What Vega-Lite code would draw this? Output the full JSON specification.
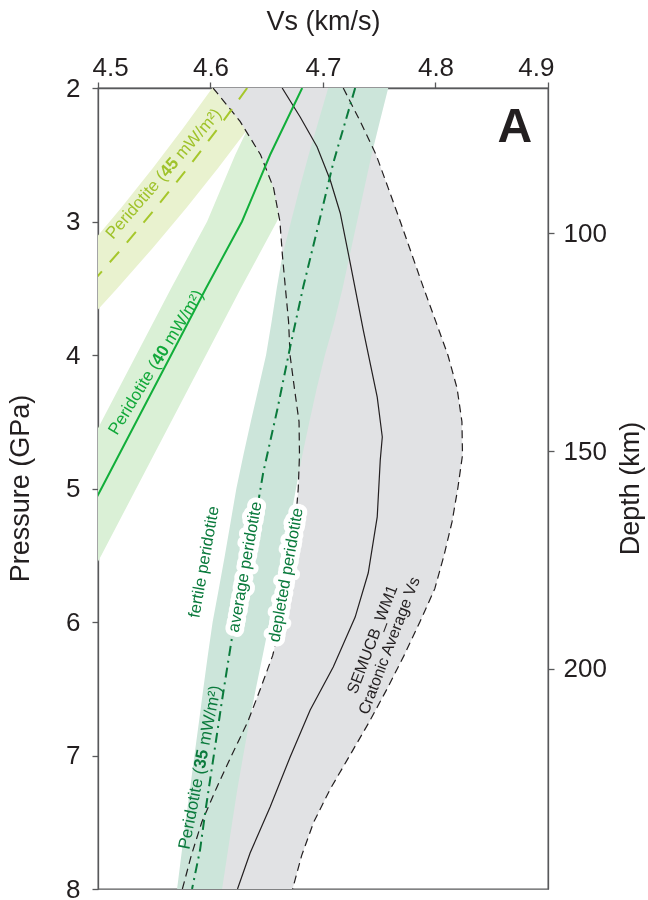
{
  "$schema": "https://vega.github.io/schema/vega-lite/v6.json",
  "width": 450,
  "height": 801,
  "autosize": "none",
  "padding": {"left": 98, "top": 88, "right": 100, "bottom": 11},
  "config": {
    "font": "Liberation Sans",
    "view": {"stroke": "#58595b", "strokeWidth": 1.3},
    "axis": {
      "domainColor": "#58595b", "tickColor": "#58595b", "domainWidth": 1.3, "tickWidth": 1.3,
      "tickSize": 6, "labelColor": "#231f20", "titleColor": "#231f20",
      "labelFontSize": 26, "titleFontSize": 27, "titleFontWeight": "normal", "grid": false,
      "labelFont": "Liberation Sans", "titleFont": "Liberation Sans"
    }
  },
  "datasets": {
    "band45": [
      {"P": 2.0, "v": 4.6016, "v2": 4.6596},
      {"P": 2.3, "v": 4.5758, "v2": 4.6338},
      {"P": 2.6, "v": 4.5488, "v2": 4.6068},
      {"P": 2.9, "v": 4.5203, "v2": 4.5783},
      {"P": 3.2, "v": 4.4905, "v2": 4.5485},
      {"P": 3.5, "v": 4.4592, "v2": 4.5172},
      {"P": 3.8, "v": 4.4269, "v2": 4.4849}
    ],
    "band40": [
      {"P": 2.0, "v": 4.6505, "v2": 4.7125},
      {"P": 2.5, "v": 4.622, "v2": 4.684},
      {"P": 3.0, "v": 4.597, "v2": 4.659},
      {"P": 3.5, "v": 4.565, "v2": 4.627},
      {"P": 4.0, "v": 4.534, "v2": 4.596},
      {"P": 4.5, "v": 4.503, "v2": 4.565},
      {"P": 5.0, "v": 4.472, "v2": 4.534},
      {"P": 5.5, "v": 4.441, "v2": 4.503},
      {"P": 5.8, "v": 4.422, "v2": 4.484}
    ],
    "semucb": [
      {"P": 2.0, "v": 4.6023, "v2": 4.718},
      {"P": 2.25, "v": 4.6263, "v2": 4.7331},
      {"P": 2.5, "v": 4.6445, "v2": 4.7472},
      {"P": 2.75, "v": 4.6561, "v2": 4.758},
      {"P": 3.0, "v": 4.6617, "v2": 4.7687},
      {"P": 3.25, "v": 4.6639, "v2": 4.7791},
      {"P": 3.5, "v": 4.6666, "v2": 4.7895},
      {"P": 3.75, "v": 4.6694, "v2": 4.8003},
      {"P": 4.0, "v": 4.6707, "v2": 4.811},
      {"P": 4.25, "v": 4.6746, "v2": 4.8192},
      {"P": 4.5, "v": 4.6787, "v2": 4.8235},
      {"P": 4.75, "v": 4.6791, "v2": 4.824},
      {"P": 5.0, "v": 4.678, "v2": 4.8198},
      {"P": 5.25, "v": 4.6756, "v2": 4.8147},
      {"P": 5.5, "v": 4.6718, "v2": 4.8076},
      {"P": 5.75, "v": 4.6677, "v2": 4.7994},
      {"P": 6.0, "v": 4.6625, "v2": 4.7861},
      {"P": 6.25, "v": 4.6553, "v2": 4.7721},
      {"P": 6.5, "v": 4.6444, "v2": 4.757},
      {"P": 6.75, "v": 4.633, "v2": 4.741},
      {"P": 7.0, "v": 4.6187, "v2": 4.7238},
      {"P": 7.25, "v": 4.605, "v2": 4.7065},
      {"P": 7.5, "v": 4.5922, "v2": 4.6917},
      {"P": 7.75, "v": 4.5829, "v2": 4.681},
      {"P": 8.0, "v": 4.575, "v2": 4.673}
    ],
    "teal": [
      {"P": 2.0, "v": 4.7046, "v2": 4.758},
      {"P": 2.25, "v": 4.6959, "v2": 4.7505},
      {"P": 2.5, "v": 4.6873, "v2": 4.7432},
      {"P": 2.75, "v": 4.6792, "v2": 4.7367},
      {"P": 3.0, "v": 4.6716, "v2": 4.7303},
      {"P": 3.25, "v": 4.664, "v2": 4.7238},
      {"P": 3.5, "v": 4.6589, "v2": 4.7174},
      {"P": 3.75, "v": 4.6543, "v2": 4.7101},
      {"P": 4.0, "v": 4.6494, "v2": 4.7017},
      {"P": 4.25, "v": 4.6426, "v2": 4.6944},
      {"P": 4.5, "v": 4.6358, "v2": 4.6879},
      {"P": 4.75, "v": 4.6292, "v2": 4.6816},
      {"P": 5.0, "v": 4.623, "v2": 4.676},
      {"P": 5.25, "v": 4.6179, "v2": 4.6705},
      {"P": 5.5, "v": 4.6128, "v2": 4.6645},
      {"P": 5.75, "v": 4.6074, "v2": 4.6585},
      {"P": 6.0, "v": 4.6019, "v2": 4.6524},
      {"P": 6.25, "v": 4.5976, "v2": 4.6464},
      {"P": 6.5, "v": 4.5936, "v2": 4.6403},
      {"P": 6.75, "v": 4.5897, "v2": 4.6344},
      {"P": 7.0, "v": 4.5857, "v2": 4.6291},
      {"P": 7.25, "v": 4.5818, "v2": 4.6239},
      {"P": 7.5, "v": 4.5778, "v2": 4.6193},
      {"P": 7.75, "v": 4.574, "v2": 4.6148},
      {"P": 8.0, "v": 4.5703, "v2": 4.6103}
    ],
    "lines": [
      {"s": "l45", "P": 2.0, "v": 4.6326},
      {"s": "l45", "P": 2.3, "v": 4.6068},
      {"s": "l45", "P": 2.6, "v": 4.5798},
      {"s": "l45", "P": 2.9, "v": 4.5513},
      {"s": "l45", "P": 3.2, "v": 4.5215},
      {"s": "l45", "P": 3.5, "v": 4.4902},
      {"s": "l45", "P": 3.8, "v": 4.4579},
      {"s": "l40", "P": 2.0, "v": 4.6815},
      {"s": "l40", "P": 2.5, "v": 4.653},
      {"s": "l40", "P": 3.0, "v": 4.628},
      {"s": "l40", "P": 3.5, "v": 4.596},
      {"s": "l40", "P": 4.0, "v": 4.565},
      {"s": "l40", "P": 4.5, "v": 4.534},
      {"s": "l40", "P": 5.0, "v": 4.503},
      {"s": "l40", "P": 5.5, "v": 4.472},
      {"s": "l40", "P": 5.8, "v": 4.453},
      {"s": "l35", "P": 2.0, "v": 4.7286},
      {"s": "l35", "P": 2.562, "v": 4.7091},
      {"s": "l35", "P": 3.064, "v": 4.6948},
      {"s": "l35", "P": 3.491, "v": 4.6824},
      {"s": "l35", "P": 3.94, "v": 4.6708},
      {"s": "l35", "P": 4.412, "v": 4.6593},
      {"s": "l35", "P": 4.884, "v": 4.6468},
      {"s": "l35", "P": 5.461, "v": 4.6352},
      {"s": "l35", "P": 5.835, "v": 4.6272},
      {"s": "l35", "P": 6.112, "v": 4.6192},
      {"s": "l35", "P": 6.584, "v": 4.6103},
      {"s": "l35", "P": 7.034, "v": 4.6023},
      {"s": "l35", "P": 7.431, "v": 4.5952},
      {"s": "l35", "P": 7.708, "v": 4.5907},
      {"s": "l35", "P": 8.0, "v": 4.5836},
      {"s": "mid", "P": 2.0, "v": 4.6637},
      {"s": "mid", "P": 2.217, "v": 4.6797},
      {"s": "mid", "P": 2.442, "v": 4.6948},
      {"s": "mid", "P": 2.689, "v": 4.7064},
      {"s": "mid", "P": 2.936, "v": 4.7153},
      {"s": "mid", "P": 3.311, "v": 4.7242},
      {"s": "mid", "P": 3.813, "v": 4.7358},
      {"s": "mid", "P": 4.315, "v": 4.7482},
      {"s": "mid", "P": 4.614, "v": 4.7527},
      {"s": "mid", "P": 4.787, "v": 4.7509},
      {"s": "mid", "P": 5.213, "v": 4.7482},
      {"s": "mid", "P": 5.633, "v": 4.7402},
      {"s": "mid", "P": 5.963, "v": 4.7286},
      {"s": "mid", "P": 6.337, "v": 4.7091},
      {"s": "mid", "P": 6.659, "v": 4.6886},
      {"s": "mid", "P": 7.011, "v": 4.6708},
      {"s": "mid", "P": 7.386, "v": 4.653},
      {"s": "mid", "P": 7.73, "v": 4.6352},
      {"s": "mid", "P": 8.0, "v": 4.624}
    ]
  },
  "resolve": {"scale": {"y": "independent"}},
  "layer": [
    {
      "encoding": {
        "x": {"field": "v", "type": "quantitative",
          "scale": {"domain": [4.5, 4.9], "nice": false, "zero": false},
          "axis": {"orient": "top", "values": [4.5, 4.6, 4.7, 4.8, 4.9], "format": ".1f", "title": "Vs (km/s)", "labelPadding": 2, "labelFlushOffset": 6, "titleY": -59, "titleBaseline": "alphabetic"}},
        "y": {"field": "P", "type": "quantitative",
          "scale": {"domain": [2, 8], "reverse": true, "nice": false, "zero": false},
          "axis": {"orient": "left", "values": [2, 3, 4, 5, 6, 7, 8], "title": "Pressure (GPa)", "labelPadding": 12, "titleX": -78, "titleY": 400, "titleBaseline": "middle", "titleAlign": "center"}}
      },
      "layer": [
        {"data": {"name": "band45"}, "mark": {"type": "area", "orient": "horizontal", "color": "#e9f2cf", "blend": "multiply", "clip": true}, "encoding": {"x2": {"field": "v2"}}},
        {"data": {"name": "band40"}, "mark": {"type": "area", "orient": "horizontal", "color": "#daf0d6", "blend": "multiply", "clip": true}, "encoding": {"x2": {"field": "v2"}}},
        {"data": {"name": "semucb"}, "mark": {"type": "area", "orient": "horizontal", "color": "#e1e2e4", "blend": "multiply", "clip": true}, "encoding": {"x2": {"field": "v2"}}},
        {"data": {"name": "teal"}, "mark": {"type": "area", "orient": "horizontal", "color": "#cce5da", "blend": "multiply", "clip": true}, "encoding": {"x2": {"field": "v2"}}},
        {"data": {"name": "semucb"}, "transform": [{"fold": ["v", "v2"], "as": ["edge", "v"]}],
          "mark": {"type": "line", "color": "#231f20", "strokeWidth": 1.2, "strokeDash": [8, 5], "clip": true},
          "encoding": {"detail": {"field": "edge"}, "order": {"field": "P", "type": "quantitative"}}},
        {"data": {"name": "lines"}, "transform": [{"filter": "datum.s == 'mid'"}],
          "mark": {"type": "line", "color": "#231f20", "strokeWidth": 1.2, "clip": true},
          "encoding": {"order": {"field": "P", "type": "quantitative"}}},
        {"data": {"name": "lines"}, "transform": [{"filter": "datum.s == 'l45'"}],
          "mark": {"type": "line", "color": "#a6c72b", "strokeWidth": 2, "strokeDash": [14, 12], "clip": true},
          "encoding": {"order": {"field": "P", "type": "quantitative"}}},
        {"data": {"name": "lines"}, "transform": [{"filter": "datum.s == 'l40'"}],
          "mark": {"type": "line", "color": "#12ae3a", "strokeWidth": 2, "clip": true},
          "encoding": {"order": {"field": "P", "type": "quantitative"}}},
        {"data": {"name": "lines"}, "transform": [{"filter": "datum.s == 'l35'"}],
          "mark": {"type": "line", "color": "#0a7a3c", "strokeWidth": 2, "strokeDash": [10, 5, 2, 5], "clip": true},
          "encoding": {"order": {"field": "P", "type": "quantitative"}}},
        {"data": {"values": [{"v": 4.5134, "P": 3.139, "t": "Peridotite ("}, {"v": 4.5751, "P": 2.54, "t": "mW/m²)"}]},
          "mark": {"type": "text", "angle": 311, "align": "left", "baseline": "alphabetic", "fontSize": 17, "color": "#9fc22a"},
          "encoding": {"text": {"field": "t"}}},
        {"data": {"values": [{"v": 4.5613, "P": 2.6734, "t": "45"}]},
          "mark": {"type": "text", "angle": 311, "align": "left", "baseline": "alphabetic", "fontSize": 17, "fontWeight": "bold", "color": "#9fc22a"},
          "encoding": {"text": {"field": "t"}}},
        {"data": {"values": [{"v": 4.5169, "P": 4.6067, "t": "Peridotite ("}, {"v": 4.5661, "P": 3.9311, "t": "mW/m²)"}]},
          "mark": {"type": "text", "angle": 301.5, "align": "left", "baseline": "alphabetic", "fontSize": 17, "color": "#12a83a"},
          "encoding": {"text": {"field": "t"}}},
        {"data": {"values": [{"v": 4.5551, "P": 4.0816, "t": "40"}]},
          "mark": {"type": "text", "angle": 301.5, "align": "left", "baseline": "alphabetic", "fontSize": 17, "fontWeight": "bold", "color": "#12a83a"},
          "encoding": {"text": {"field": "t"}}},
        {"data": {"values": [{"v": 4.581, "P": 7.708, "t": "Peridotite ("}, {"v": 4.5989, "P": 6.9296, "t": "mW/m²)"}]},
          "mark": {"type": "text", "angle": 281, "align": "left", "baseline": "alphabetic", "fontSize": 17, "color": "#0a7a3c"},
          "encoding": {"text": {"field": "t"}}},
        {"data": {"values": [{"v": 4.5949, "P": 7.1034, "t": "35"}]},
          "mark": {"type": "text", "angle": 281, "align": "left", "baseline": "alphabetic", "fontSize": 17, "fontWeight": "bold", "color": "#0a7a3c"},
          "encoding": {"text": {"field": "t"}}},
        {"data": {"values": [{"v": 4.6308, "P": 5.588, "t": "average peridotite"}, {"v": 4.6673, "P": 5.648, "t": "depleted peridotite"}]},
          "mark": {"type": "text", "angle": 280, "align": "center", "baseline": "middle", "fontSize": 16.5, "color": "white", "stroke": "white", "strokeWidth": 10, "strokeJoin": "round"},
          "encoding": {"text": {"field": "t"}}},
        {"data": {"values": [{"v": 4.5943, "P": 5.5506, "t": "fertile peridotite"}, {"v": 4.6308, "P": 5.588, "t": "average peridotite"}, {"v": 4.6673, "P": 5.648, "t": "depleted peridotite"}]},
          "mark": {"type": "text", "angle": 280, "align": "center", "baseline": "middle", "fontSize": 16.5, "color": "#0a7a3c"},
          "encoding": {"text": {"field": "t"}}},
        {"data": {"values": [{"v": 4.744, "P": 6.13, "t": "SEMUCB_WM1\nCratonic Average Vs"}]},
          "mark": {"type": "text", "angle": 291, "align": "center", "baseline": "middle", "fontSize": 16, "lineHeight": 18, "lineBreak": "\n", "color": "#231f20"},
          "encoding": {"text": {"field": "t"}}},
        {"data": {"values": [{"v": 4.8706, "P": 2.4045, "t": "A"}]},
          "mark": {"type": "text", "align": "center", "baseline": "alphabetic", "fontSize": 48, "fontWeight": "bold", "color": "#231f20"},
          "encoding": {"text": {"field": "t"}}}
      ]
    },
    {
      "data": {"values": [{"depth": 66.74}, {"depth": 250.46}]},
      "mark": {"type": "point", "opacity": 0},
      "encoding": {
        "y": {"field": "depth", "type": "quantitative",
          "scale": {"domain": [66.74, 250.46], "reverse": true, "nice": false, "zero": false},
          "axis": {"orient": "right", "values": [100, 150, 200], "title": "Depth (km)", "labelPadding": 9, "titleAngle": 270, "titleX": 82, "titleY": 400, "titleBaseline": "middle", "titleAlign": "center"}}
      }
    }
  ]
}
